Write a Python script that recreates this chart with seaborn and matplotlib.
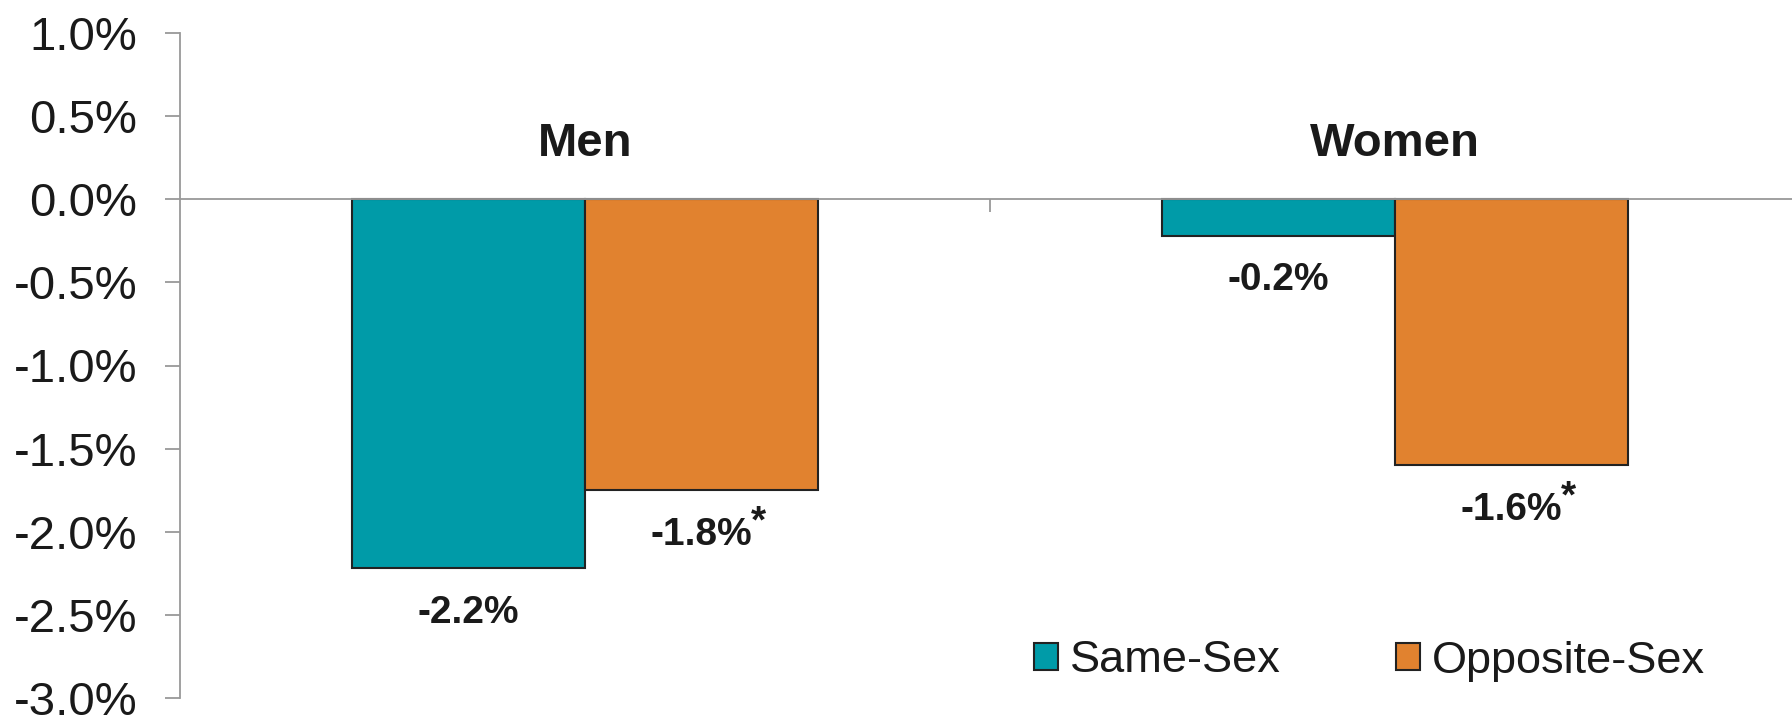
import matplotlib
matplotlib.use("Agg")
import matplotlib.pyplot as plt
import seaborn as sns
import pandas as pd

# Percent change by group and couple type
groups = ["Men", "Women"]
couple_types = ["Same-Sex", "Opposite-Sex"]
same_sex = [-2.22, -0.22]
opposite_sex = [-1.75, -1.60]
significant = {"Same-Sex": [False, False], "Opposite-Sex": [True, True]}
y_ticks = [1.0, 0.5, 0.0, -0.5, -1.0, -1.5, -2.0, -2.5, -3.0]

colors = ["#009BA8", "#E1822F"]
text_color = "#1a1a1a"
axis_gray = "#999999"

sns.set_theme(style="white")
plt.rcParams["font.family"] = ["Liberation Sans", "DejaVu Sans"]

df = pd.DataFrame({
    "group": groups * 2,
    "couple": [couple_types[0]] * 2 + [couple_types[1]] * 2,
    "change": same_sex + opposite_sex,
})

fig = plt.figure(figsize=(17.92, 7.17), dpi=100)
ax = fig.add_axes([180 / 1792, 1 - 698 / 717, (1800 - 180) / 1792, (698 - 33) / 717])

sns.barplot(
    data=df, x="group", y="change", hue="couple",
    order=groups, hue_order=couple_types, palette=colors, saturation=1,
    width=0.575, edgecolor="#222222", linewidth=1.5,
    errorbar=None, ax=ax,
)

ax.set_xlim(-0.5, 1.5)
ax.set_ylim(-3.0, 1.0)
ax.set_yticks(y_ticks)
ax.set_yticklabels([f"{v:.1f}%" for v in y_ticks])
ax.set_xticks([0.5])
ax.set_xticklabels([""])
ax.set_xlabel("")
ax.set_ylabel("")

for side in ["top", "right"]:
    ax.spines[side].set_visible(False)
ax.spines["bottom"].set_position(("data", 0))
for side in ["left", "bottom"]:
    ax.spines[side].set_color(axis_gray)
    ax.spines[side].set_linewidth(1.3)

ax.tick_params(axis="y", direction="out", length=10.8, width=1.3, color=axis_gray,
               labelsize=34, labelcolor=text_color, pad=20, left=True)
ax.tick_params(axis="x", direction="out", length=9.5, width=1.3, color=axis_gray,
               bottom=True)

# Group names above the zero line
for i, name in enumerate(groups):
    ax.text(i, 0.33, name, ha="center", va="center", fontsize=34,
            fontweight="bold", color=text_color)

# Value labels below each bar, with an asterisk for significant changes
for container, ctype in zip(ax.containers, couple_types):
    vals = [b.get_height() for b in container]
    labels = [f"{v:.1f}%" for v in vals]
    texts = ax.bar_label(container, labels=labels, padding=19, fontsize=28,
                         fontweight="bold", color=text_color)
    for t, sig in zip(texts, significant[ctype]):
        if sig:
            ax.annotate("*", xy=(1, 1), xycoords=t, xytext=(-1, 9),
                        textcoords="offset points", ha="left", va="top",
                        fontsize=28, fontweight="bold", color=text_color)

handles, labels = ax.get_legend_handles_labels()
if ax.legend_ is not None:
    ax.legend_.remove()
fig.legend(
    handles, labels, loc="center left",
    bbox_to_anchor=(1034 / 1792, 1 - 661 / 717),
    ncol=2, frameon=False, borderpad=0, borderaxespad=0,
    handlelength=0.53, handleheight=0.53,
    handletextpad=0.27, columnspacing=2.55,
    prop={"size": 32.5}, labelcolor=text_color,
)

fig.savefig("out.png", dpi=100, facecolor="white")
